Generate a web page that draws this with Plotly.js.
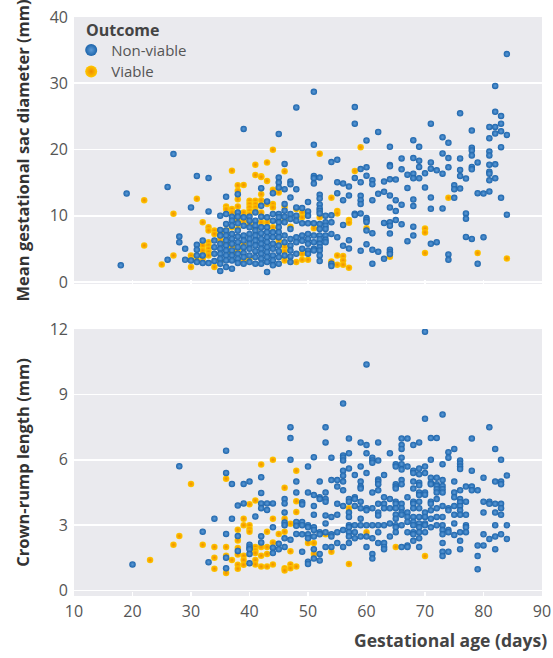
<!DOCTYPE html>
<html>
<head>
<meta charset="utf-8">
<script src="https://cdn.plot.ly/plotly-3.0.1.min.js"></script>
<style>html,body{margin:0;padding:0;background:#fff;}#chart{width:553px;height:658px;}</style>
</head>
<body>
<div id="chart"></div>
<script>
// ---- Data: [gestational age (days), [values...]] ----
// Mean gestational sac diameter (mm)
const sacNonViable = [
 [18,[2.5]],[19,[13.35]],[26,[14.35,3.35]],[27,[19.3]],[28,[6.85,6.0]],[29,[5.0,3.35]],
 [30,[11.25,3.25]],[31,[16.0,5.6,4.85,4.0,3.0]],[32,[6.25,4.0,2.85]],[33,[15.7,10.65,2.85]],
 [34,[6.25,5.25,4.25,3.15]],[35,[10.0,7.85,7.0,5.75,5.0,4.25,3.5,2.75,1.65]],
 [36,[12.85,10.25,8.75,7.75,7.0,6.25,5.5,4.75,4.0,3.25,2.25]],
 [37,[9.85,9.25,8.5,7.25,6.5,5.75,4.75,4.0,3.25,2.0]],
 [38,[13.25,10.5,9.85,8.85,7.75,6.85,6.0,5.25,4.25,3.5,2.85]],
 [39,[23.1,9.75,8.5,7.0,6.25,5.25,4.35,3.75,2.75]],
 [40,[9.85,9.25,8.25,7.25,6.5,5.75,5.0,4.0,3.0]],
 [41,[10.5,9.25,8.5,7.75,7.0,6.25,5.5,4.65,3.75,2.75]],
 [42,[14.15,11.5,9.85,8.25,7.35,6.5,5.75,5.0,4.25,3.5,2.75]],
 [43,[12.15,9.75,8.25,7.5,6.75,6.0,5.25,4.5,3.75,3.0,1.5]],
 [44,[13.4,10.25,9.25,7.5,6.75,5.75,5.0,4.0,3.25,2.5]],
 [45,[22.35,15.75,15.0,14.25,10.25,9.75,9.0,8.25,7.5,6.75,5.5,4.65,3.75,2.75]],
 [46,[17.8,14.0,11.75,10.75,9.85,9.0,7.0,6.0,4.0]],
 [47,[15.15,14.75,12.75,10.25,9.5,8.0,6.5,5.5,4.75,3.85,3.0]],
 [48,[26.35,14.0,11.25,10.0,9.25,6.75,6.0,4.25]],
 [49,[11.15,8.85,7.0,6.2,5.0]],
 [50,[12.05,10.65,10.0,8.85,7.25,6.5,5.75,4.75,4.25]],
 [51,[28.7,20.7,16.0,15.65,14.85,8.85,7.0,6.0,5.0,4.75]],
 [52,[15.75,13.15,12.6,11.7,11.1,10.7,10.35,8.75,8.0,7.0,6.45,5.75,5.25,4.75,4.0,3.15]],
 [53,[10.0,9.0,8.5,8.0,7.0,6.35,6.0]],[54,[18.1,10.05,9.0,7.25,2.75,2.4]],
 [55,[18.45,15.05,13.4,6.75]],[56,[14.85,12.35,8.6,5.45]],[57,[14.4,13.05,6.3,5.05]],
 [58,[26.4,23.9,15.7,10.3,10.1]],[59,[17.05,15.05,13.0,12.35,11.75,10.35,4.7]],
 [60,[21.35,17.3,16.05,9.65,9.35,9.05,7.75,5.7]],[61,[15.35,14.75,12.35,7.35,4.85,2.75]],
 [62,[22.65,13.3,4.55]],[63,[15.15,13.6,8.9,3.5]],
 [64,[20.4,17.65,17.45,15.5,13.05,11.25,9.0,8.5,7.3,4.85,4.5,4.2]],
 [65,[15.45,12.35,10.7,9.35]],[66,[18.65,17.0,11.65,8.7]],[67,[16.2,14.2,6.15]],
 [68,[21.4,18.7,16.35,15.65,12.45,11.45,8.35,7.0]],[69,[20.4,18.3,17.35,15.65]],
 [70,[16.4,14.25]],[71,[23.9,18.05,17.1,12.75,11.05,5.75]],[72,[16.85,6.0]],
 [73,[21.85,19.4,16.35,11.1]],[74,[21.0,18.7,17.3,4.15,3.35]],[75,[14.6,14.0,12.7]],
 [76,[25.45,18.65,16.9,16.0,14.1]],[77,[15.6,10.35,9.55,6.8]],
 [78,[22.85,20.25,19.85,19.1,17.35,17.0,6.5]],[79,[18.05,13.4,2.75]],[80,[13.35,6.75]],
 [81,[23.4,21.7,19.7,19.1,17.7,16.65,16.35,15.35,13.65]],
 [82,[29.6,25.7,23.4,22.4,17.75,15.65]],[83,[25.05,23.9,22.75,20.35,12.7]],
 [84,[34.4,22.2,10.15]]
];
const sacViable = [
 [22,[12.35,5.5]],[25,[2.65]],[27,[10.3,4.0]],[30,[4.0,3.35,2.25]],[31,[12.55,3.25]],
 [32,[9.0,5.5,4.75,3.5]],[33,[8.25,7.75,6.0,5.5,5.0,4.5,4.0]],[34,[7.75,7.25,2.25]],
 [35,[7.25,6.35,3.25]],[36,[11.4,11.0,7.75,6.0]],[37,[16.8,11.0,10.5,8.25,5.35,4.5]],
 [38,[14.6,13.75,12.5,11.4,9.25,8.0,4.85]],[39,[14.65,10.5,9.25,5.75,3.25]],
 [40,[12.25,11.75,11.25,10.75,10.25,8.75,3.5]],[41,[17.7,16.15,12.25,11.75,11.25,10.75,8.0]],
 [42,[15.95,15.85,13.25,12.35,10.5,9.0]],[43,[18.05,15.25,11.75,9.0]],
 [44,[19.95,13.9,11.75,11.25,8.25]],[45,[13.5,6.25]],[46,[16.7,11.35,9.25,5.25,4.65,3.25]],
 [47,[8.35]],[48,[11.0,3.0]],[49,[10.5,9.75,4.25,3.35]],[50,[3.35]],[51,[8.1]],
 [52,[19.35,9.75]],[54,[12.7,3.1]],[55,[10.7,10.35,4.0,2.6]],[56,[3.9,3.25,2.6]],
 [57,[9.35,8.95,2.15]],[58,[16.75]],[59,[20.35]],[60,[8.1]],[64,[3.8]],
 [70,[8.05,7.45,4.35]],[74,[12.7]],[79,[4.35]],[84,[3.55]]
];
// Crown-rump length (mm)
const crlNonViable = [
 [20,[1.2]],[28,[5.7]],[32,[2.7]],[33,[1.3]],[34,[3.3]],[36,[6.42,5.4,2.6,1.51,1.02]],
 [37,[4.89,3.3]],[38,[3.9,2.5,1.82]],[39,[4.89,4.0]],[40,[5.0,2.1,1.98,1.89,1.68,1.25]],
 [41,[3.4]],[42,[5.2,4.48,4.0,3.78,2.49,2.2]],[43,[4.0,3.7]],[44,[4.0,2.9,1.97,1.72]],
 [45,[2.15,1.9]],[46,[4.2,4.0,3.58,3.12,3.0,2.4,2.0]],[47,[7.5,7.0,6.0,2.33]],
 [48,[5.0,4.5,3.15,2.97,2.6]],
 [49,[4.05,3.95,3.15,3.0,2.58,1.78]],[50,[5.69,4.5,3.0,2.9,2.58,2.4,1.32,1.22]],
 [51,[6.12,4.38,3.88,3.48,2.9,2.78,2.48,1.9,1.47]],[52,[5.0,4.28,4.2,2.68,2.58,1.68,1.38]],
 [53,[7.49,6.8,4.5,4.2,4.08,3.45,3.08,2.68,2.0]],[54,[6.1,5.07,3.38,2.58,2.48,2.0]],
 [55,[5.07,4.77,3.98,3.48,2.68,2.18]],[56,[8.58,6.2,6.1,5.97,5.5,5.27,5.0,4.6,3.88,2.78,2.0]],
 [57,[6.98,6.3,5.6,4.2,4.08,3.58,3.38,3.0,2.9,2.68,2.48,2.18]],
 [58,[5.3,4.28,4.2,3.88,3.0,2.68,2.4]],[59,[6.8,5.69,5.0,4.77,4.68,4.08,3.78,3.3,3.0,2.48]],
 [60,[10.38,6.68,6.3,5.39,3.78,3.68,3.0,2.48,2.0]],[61,[6.1,5.97,5.87,4.5,3.78,3.0,2.4,1.68,1.47]],
 [62,[6.8,5.97,5.1,5.0,4.88,4.6,3.98,3.58,3.45,3.0,2.68,2.18]],
 [63,[5.3,4.28,3.98,3.78,3.0,2.18,2.0,1.9]],[64,[6.3,4.2,3.78,3.08,2.48]],
 [65,[5.8,5.69,4.88,4.77,4.68,4.08,3.98,3.78,3.48,3.3,3.0,2.9,2.68]],
 [66,[6.98,6.68,6.5,6.1,5.8,5.55,5.07,4.88,3.98,3.78,3.58,3.48,3.0,2.0]],
 [67,[6.98,5.69,4.28,3.58,3.38,3.15,2.68,2.07,2.0]],
 [68,[6.68,5.5,5.39,5.0,4.68,4.08,3.98,3.78,3.38,3.15,3.0,2.68,2.58,2.28]],
 [69,[6.8,5.6,5.34,4.95,4.83,4.5,4.38,4.08,3.78,3.38,3.08,2.9,2.68,2.4,2.0]],
 [70,[11.88,7.88,5.69,5.39,4.5,4.4,3.58,3.38,3.08,3.0,2.68]],
 [71,[7.0,6.0,5.18,4.95,4.88,4.08,3.98,3.68,3.3,2.9]],
 [72,[7.0,5.18,4.88,4.8,4.65,4.5,4.2,3.78,3.38,3.0]],
 [73,[8.08,5.8,5.07,4.8,4.65,4.5,3.88,3.38,3.0,2.78,2.58,2.18,1.78,1.58]],
 [74,[6.35,6.1,3.78,3.68,2.78,2.68,1.78]],[75,[6.5,5.0,4.5,4.28,3.88,3.48,3.08,2.55]],
 [76,[5.97,5.82,5.69,5.58,4.6,4.2,4.05,3.88,3.68,3.48,2.68,2.28,1.9]],
 [77,[4.77,4.08,3.48,3.0,2.9,2.68]],[78,[6.98,5.5,4.77,4.6]],[79,[4.6,2.07,1.58,0.98]],
 [80,[5.18,4.08,3.58,2.58,2.07]],[81,[7.49,4.08,3.98,2.37]],
 [82,[6.5,5.0,3.98,3.58,3.0,2.48,1.9]],[83,[6.0,5.0,4.88,3.98,3.78,3.48,2.58]],
 [84,[5.28,3.0,2.37]]
];
const crlViable = [
 [23,[1.4]],[27,[2.1]],[28,[2.5]],[30,[4.89]],[32,[2.1]],[34,[2.0,1.51,1.0]],
 [36,[5.13,2.0,1.6,0.8]],[37,[1.4]],[38,[2.79,2.3,1.95,1.65,1.18,1.0]],
 [39,[3.3,3.0,1.6,1.4,1.18]],[40,[3.96,3.0,2.82,2.7]],[41,[4.13,2.0,1.85,1.72,1.4,1.2]],
 [42,[5.79,2.0,1.6,1.1]],[43,[2.7,2.0,1.68,1.1]],[44,[6.0,3.3,2.2,1.2]],[45,[2.6]],
 [46,[4.72,3.3,2.7,1.02,0.92]],[47,[3.07,1.8,1.2,1.02]],[48,[5.5,4.1,3.6,1.1]],
 [50,[2.18]],[51,[2.18,1.68]],[53,[2.58]],[54,[1.78]],[57,[3.78,1.22]],[60,[2.68]],
 [65,[2.0]],[70,[1.58]]
];
const outcomeLabels = ['Non-viable','Viable'];
const legendTitle = 'Outcome';
const sacTicks = [0,10,20,30,40];
const crlTicks = [0,3,6,9,12];
const ageTicks = [10,20,30,40,50,60,70,80,90];

function flat(cols){
  const xs=[], ys=[];
  cols.forEach(function(c){ c[1].forEach(function(v){ xs.push(c[0]); ys.push(v); }); });
  return {x:xs, y:ys};
}
const blueMarker = {size:6.5, color:'#1c64ab', line:{width:0}, gradient:{type:'radial', color:'#5c9ad6'}};
const orangeMarker = {size:6.5, color:'#ffc800', line:{width:0}, gradient:{type:'radial', color:'#f08d00'}};

const a = flat(sacNonViable), b = flat(sacViable), c = flat(crlNonViable), d = flat(crlViable);
const traces = [
  {type:'scatter', mode:'markers', x:b.x, y:b.y, xaxis:'x', yaxis:'y', name:outcomeLabels[1], legend:'legend2', legendgroup:'v', marker:orangeMarker, hoverinfo:'skip'},
  {type:'scatter', mode:'markers', x:a.x, y:a.y, xaxis:'x', yaxis:'y', name:outcomeLabels[0], legend:'legend', legendgroup:'nv', marker:blueMarker, hoverinfo:'skip'},
  {type:'scatter', mode:'markers', x:d.x, y:d.y, xaxis:'x2', yaxis:'y2', name:outcomeLabels[1], legendgroup:'v', showlegend:false, marker:orangeMarker, hoverinfo:'skip'},
  {type:'scatter', mode:'markers', x:c.x, y:c.y, xaxis:'x2', yaxis:'y2', name:outcomeLabels[0], legendgroup:'nv', showlegend:false, marker:blueMarker, hoverinfo:'skip'}
];
const FONT = 'Open Sans, Noto Sans, sans-serif';
const legendBase = {xanchor:'left', yanchor:'top', bgcolor:'rgba(0,0,0,0)', itemsizing:'constant',
  font:{family:FONT, size:15, color:'#555555'}, tracegroupgap:0, itemwidth:30};
const xCommon = {range:[10,90], tickvals:ageTicks, ticks:'inside', ticklen:4, tickwidth:1.5, tickcolor:'#ffffff',
  showgrid:false, zeroline:false, showline:false, tickfont:{family:FONT, size:16, color:'#555555'}};
const yCommon = {showgrid:true, gridcolor:'#ffffff', gridwidth:1.6, zeroline:false, showline:false, ticks:'',
  ticklabelstandoff:5, tickfont:{family:FONT, size:16, color:'#555555'}};
const layout = {
  width:553, height:658,
  margin:{l:74, r:11, t:17, b:62},
  paper_bgcolor:'#ffffff', plot_bgcolor:'#eaeaee',
  font:{family:FONT, color:'#444444'},
  showlegend:true,
  legend: Object.assign({}, legendBase, {x:-0.006, y:0.971}),
  legend2: Object.assign({}, legendBase, {x:-0.006, y:0.934}),
  xaxis: Object.assign({}, xCommon, {anchor:'y', domain:[0,1], showticklabels:false}),
  xaxis2: Object.assign({}, xCommon, {anchor:'y2', domain:[0,1], ticklabelstandoff:4}),
  yaxis: Object.assign({}, yCommon, {domain:[0.539,1], range:[-0.3,40], tickvals:sacTicks,
    title:{text:'<b>Mean gestational sac diameter (mm)</b>', font:{family:FONT, size:16.5, color:'#333333'}, standoff:15}}),
  yaxis2: Object.assign({}, yCommon, {domain:[0,0.461], range:[-0.25,12], tickvals:crlTicks,
    title:{text:'<b>Crown-rump length (mm)</b>', font:{family:FONT, size:16.5, color:'#333333'}, standoff:15}}),
  annotations:[
    {text:'<b>Gestational age (days)</b>', xref:'paper', yref:'paper', x:1.015, y:-0.076,
     xanchor:'right', yanchor:'middle', showarrow:false, font:{family:FONT, size:17.5, color:'#444444'}},
    {text:'<b>'+legendTitle+'</b>', xref:'paper', yref:'paper', x:0.022, y:0.977,
     xanchor:'left', yanchor:'middle', showarrow:false, font:{family:FONT, size:16, color:'#444444'}}
  ]
};
Plotly.newPlot('chart', traces, layout, {displayModeBar:false, staticPlot:true});
</script>
</body>
</html>
